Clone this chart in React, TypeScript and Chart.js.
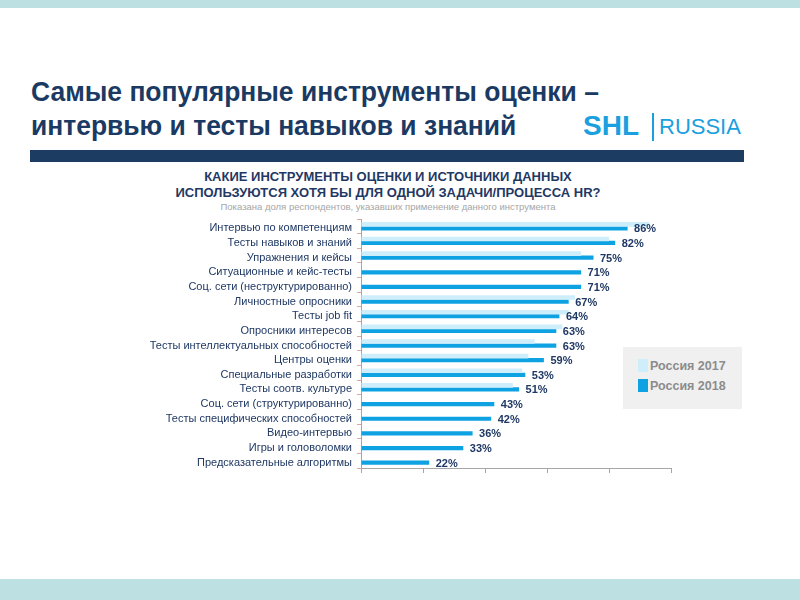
import React, { useEffect, useRef } from "react";
import { Chart, registerables } from "chart.js";

Chart.register(...registerables);

const categories = [
  "Интервью по компетенциям",
  "Тесты навыков и знаний",
  "Упражнения и кейсы",
  "Ситуационные и кейс-тесты",
  "Соц. сети (неструктурированно)",
  "Личностные опросники",
  "Тесты job fit",
  "Опросники интересов",
  "Тесты интеллектуальных способностей",
  "Центры оценки",
  "Специальные разработки",
  "Тесты соотв. культуре",
  "Соц. сети (структурированно)",
  "Тесты специфических способностей",
  "Видео-интервью",
  "Игры и головоломки",
  "Предсказательные алгоритмы",
];

const values2017: (number | null)[] = [93, 80, 71, null, null, 69, 67, 65, 56, 54, 52, 49, null, null, null, null, null];
const values2018 = [86, 82, 75, 71, 71, 67, 64, 63, 63, 59, 53, 51, 43, 42, 36, 33, 22];
const seriesNames = ["Россия 2017", "Россия 2018"];
const seriesColors = ["#cdeefa", "#0ea2e3"];
const xMin = 0;
const xMax = 100;
const xStep = 20;

const FONT = "'Liberation Sans', Arial, sans-serif";
const NAVY = "#1f3864";

const valueLabels = {
  id: "valueLabels",
  afterDatasetsDraw(chart: any) {
    const ctx = chart.ctx;
    const meta = chart.getDatasetMeta(1);
    ctx.save();
    ctx.font = `bold 11px ${FONT}`;
    ctx.fillStyle = NAVY;
    ctx.textAlign = "left";
    ctx.textBaseline = "middle";
    meta.data.forEach((el: any, i: number) => {
      const v = chart.data.datasets[1].data[i];
      if (v == null) return;
      ctx.fillText(`${v}%`, el.x + 6.5, el.y + 1);
    });
    ctx.restore();
  },
};

function BarChart() {
  const ref = useRef<HTMLCanvasElement | null>(null);
  useEffect(() => {
    if (!ref.current) return;
    const chart = new Chart(ref.current, {
      type: "bar",
      data: {
        labels: categories,
        datasets: [
          {
            label: seriesNames[0],
            data: values2017,
            backgroundColor: seriesColors[0],
            barPercentage: 1.15,
            categoryPercentage: 0.55,
          },
          {
            label: seriesNames[1],
            data: values2018,
            backgroundColor: seriesColors[1],
            barPercentage: 1.05,
            categoryPercentage: 0.55,
          },
        ],
      },
      options: {
        indexAxis: "y",
        responsive: false,
        animation: false,
        devicePixelRatio: 1,
        layout: { padding: { left: 0, top: 219, right: 129, bottom: 126 } },
        plugins: {
          legend: { display: false },
          tooltip: { enabled: false },
          title: { display: false },
        },
        scales: {
          x: {
            min: xMin,
            max: xMax,
            ticks: { display: false, stepSize: xStep },
            grid: { drawOnChartArea: false, drawTicks: true, tickLength: 5, color: "#a6a6a6" },
            border: { color: "#a6a6a6" },
            afterFit: (s: any) => {
              s.height = 6;
            },
          },
          y: {
            ticks: {
              color: NAVY,
              font: { family: FONT, size: 11 },
              padding: 5,
              autoSkip: false,
              labelOffset: 2,
            },
            grid: { drawOnChartArea: false, drawTicks: true, tickLength: 4, color: "#d4a9a4", offset: true },
            border: { color: "#a6a6a6" },
            afterFit: (s: any) => {
              s.width = 361;
            },
          },
        },
      },
      plugins: [valueLabels],
    });
    return () => chart.destroy();
  }, []);
  return <canvas ref={ref} width={800} height={600} style={{ position: "absolute", left: 0, top: 0, width: 800, height: 600 }} />;
}

export default function App() {
  return (
    <div style={{ position: "fixed", left: 0, top: 0, width: 800, height: 600, background: "#fff", overflow: "hidden", fontFamily: FONT }}>
      <div style={{ position: "absolute", left: 0, top: 0, width: 800, height: 8, background: "#bde0e3" }} />
      <div style={{ position: "absolute", left: 0, top: 579, width: 800, height: 21, background: "#bde0e3" }} />
      <div style={{ position: "absolute", left: 31, top: 75, color: "#1b3a63", fontWeight: "bold", fontSize: 27, lineHeight: "34px", whiteSpace: "nowrap", transform: "scaleX(0.98)", transformOrigin: "left top" }}>
        Самые популярные инструменты оценки –<br />интервью и тесты навыков и знаний
      </div>
      <div style={{ position: "absolute", left: 583, top: 111, color: "#1a9fdf", fontWeight: "bold", fontSize: 28, lineHeight: "30px" }}>SHL</div>
      <div style={{ position: "absolute", left: 652, top: 113, width: 2, height: 28, background: "#1a9fdf" }} />
      <div style={{ position: "absolute", left: 659, top: 114, color: "#1a9fdf", fontSize: 22, lineHeight: "26px" }}>RUSSIA</div>
      <div style={{ position: "absolute", left: 30, top: 150, width: 714, height: 12, background: "#1d3c62" }} />
      <div style={{ position: "absolute", left: 0, top: 169, width: 776, textAlign: "center", color: NAVY, fontWeight: "bold", fontSize: 13, lineHeight: "16px" }}>
        КАКИЕ ИНСТРУМЕНТЫ ОЦЕНКИ И ИСТОЧНИКИ ДАННЫХ<br />ИСПОЛЬЗУЮТСЯ ХОТЯ БЫ ДЛЯ ОДНОЙ ЗАДАЧИ/ПРОЦЕССА HR?
      </div>
      <div style={{ position: "absolute", left: 0, top: 201, width: 776, textAlign: "center", color: "#a6a6a6", fontSize: 9.5, lineHeight: "11px" }}>
        Показана доля респондентов, указавших применение данного инструмента
      </div>
      <BarChart />
      <div style={{ position: "absolute", left: 623, top: 347, width: 119, height: 62, background: "#f0f0f0" }}>
        {seriesNames.map((n, i) => (
          <div key={n} style={{ position: "absolute", left: 15, top: 12 + i * 20, height: 13, display: "flex", alignItems: "center" }}>
            <div style={{ width: 10, height: 13, background: seriesColors[i], marginRight: 2 }} />
            <span style={{ color: "#8c8c8c", fontWeight: "bold", fontSize: 12.5 }}>{n}</span>
          </div>
        ))}
      </div>
    </div>
  );
}
